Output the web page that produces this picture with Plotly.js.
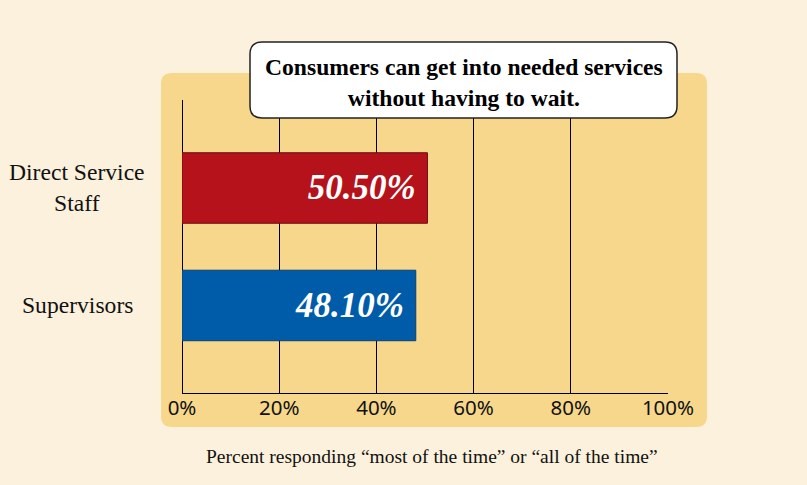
<!DOCTYPE html>
<html><head><meta charset="utf-8">
<script src="https://cdn.plot.ly/plotly-3.0.1.min.js"></script>
<style>html,body{margin:0;padding:0;background:#fbf1dc;}</style>
</head><body><div id="chart" style="width:807px;height:485px;"></div>
<script>
const categories = ["Supervisors", "Direct Service Staff"];
const categoryLabels = ["Supervisors", "Direct Service<br>Staff"];
const values = [48.1, 50.5];
const valueLabels = ["48.10%", "50.50%"];
const barColors = ["#005ba9", "#b5121b"];
const barLineColors = ["#0b3f73", "#6e0a10"];
const tickVals = [0, 20, 40, 60, 80, 100];
const tickText = ["0%", "20%", "40%", "60%", "80%", "100%"];
const chartTitle = "Consumers can get into needed services<br>without having to wait.";
const xTitle = "Percent responding \u201cmost of the time\u201d or \u201call of the time\u201d";

const SERIF = "Liberation Serif, Times New Roman, serif";
// pixel geometry helpers
const L = 182, R = 668, T = 100, B = 393, W = 807, H = 485;
const px = x => (x - L) / (R - L);
const py = y => (B - y) / (B - T);
function roundRect(x0, y0, x1, y1, r) {
  const rx = r / (R - L), ry = r / (B - T);
  const a = px(x0), b = px(x1), top = py(y0), bot = py(y1);
  return `M ${a+rx},${top} L ${b-rx},${top} Q ${b},${top} ${b},${top-ry} L ${b},${bot+ry} Q ${b},${bot} ${b-rx},${bot} L ${a+rx},${bot} Q ${a},${bot} ${a},${bot+ry} L ${a},${top-ry} Q ${a},${top} ${a+rx},${top} Z`;
}

const trace = {
  type: "bar",
  orientation: "h",
  y: categories,
  x: values,
  width: 0.6,
  marker: { color: barColors, line: { color: barLineColors, width: 1 } },
  text: valueLabels.map(t => t + " "),
  textposition: "inside",
  insidetextanchor: "end",
  textfont: { family: SERIF, size: 35, color: "#ffffff", style: "italic", weight: "bold" },
  cliponaxis: false,
  hoverinfo: "skip"
};

const annotations = [
  { xref: "paper", yref: "paper", x: px(464), y: py(82), text: "<b>" + chartTitle + "</b>", showarrow: false,
    font: { family: SERIF, size: 23.6, color: "#000" }, align: "center", xanchor: "center", yanchor: "middle" },
  { xref: "paper", yref: "paper", x: px(432), y: py(456), text: xTitle, showarrow: false,
    font: { family: SERIF, size: 19.5, color: "#111" }, xanchor: "center", yanchor: "middle" }
];
categories.forEach((c, i) => {
  annotations.push({ xref: "paper", yref: "y", x: px(77), y: c, text: categoryLabels[i], showarrow: false, align: "center",
    font: { family: SERIF, size: 23.6, color: "#111" }, xanchor: "center", yanchor: "middle" });
});

const layout = {
  width: W, height: H,
  margin: { l: L, r: W - R, t: T, b: H - B, pad: 0 },
  paper_bgcolor: "#fbf1dc",
  plot_bgcolor: "rgba(0,0,0,0)",
  showlegend: false,
  bargap: 0,
  xaxis: {
    range: [0, 100], tickvals: tickVals, ticktext: tickText, ticks: "",
    showgrid: true, gridcolor: "#000", gridwidth: 1,
    zeroline: true, zerolinecolor: "#000", zerolinewidth: 1,
    showline: true, linecolor: "#000", linewidth: 1,
    tickfont: { family: "Noto Sans, Open Sans, sans-serif", size: 20.5, color: "#111" },
    ticklabelstandoff: -4, fixedrange: true
  },
  yaxis: {
    type: "category", categoryarray: categories, range: [-0.745, 1.749],
    showticklabels: false, showgrid: false, zeroline: false, showline: false, ticks: "", fixedrange: true
  },
  shapes: [
    { type: "path", xref: "paper", yref: "paper", path: roundRect(161, 73, 707, 427, 11),
      fillcolor: "#f6d78b", line: { width: 0 }, layer: "below" },
    { type: "path", xref: "paper", yref: "paper", path: roundRect(250, 42, 677, 118, 12),
      fillcolor: "#ffffff", line: { color: "#222", width: 1.5 }, layer: "above" }
  ],
  annotations: annotations
};

Plotly.newPlot("chart", [trace], layout, { displayModeBar: false, staticPlot: true });
</script>
</body></html>
